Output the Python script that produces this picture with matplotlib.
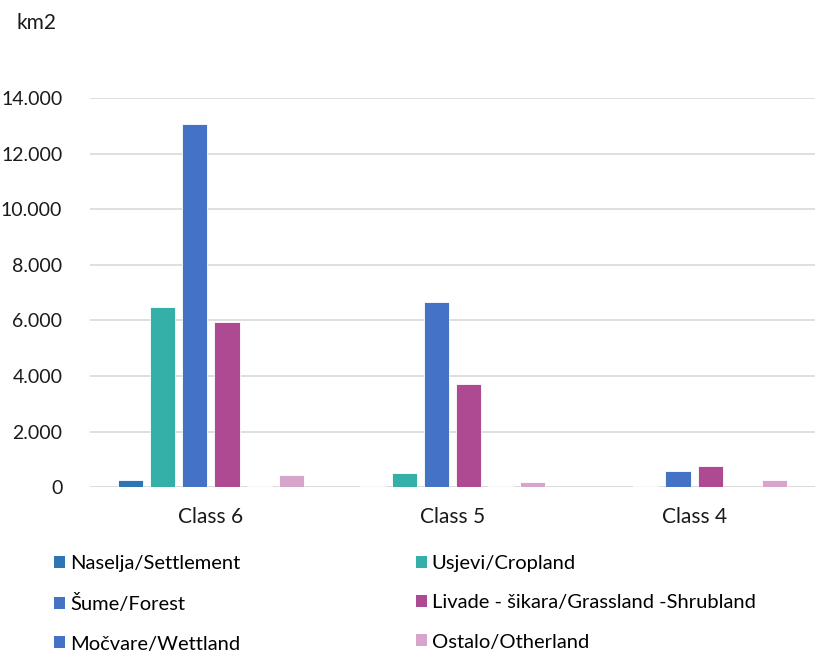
import matplotlib.pyplot as plt
import numpy as np
from matplotlib.patches import Patch
from matplotlib.ticker import FuncFormatter

plt.rcParams['font.family'] = ['Lato', 'DejaVu Sans']

classes = ['Class 6', 'Class 5', 'Class 4']
series = ['Naselja/Settlement', 'Usjevi/Cropland', 'Šume/Forest',
          'Livade - šikara/Grassland -Shrubland', 'Močvare/Wettland', 'Ostalo/Otherland']
settlement = [250, 40, 0]
cropland = [6480, 515, 40]
forest = [13060, 6680, 575]
grassland = [5960, 3720, 780]
wetland = [40, 40, 0]
otherland = [440, 180, 250]
values = [settlement, cropland, forest, grassland, wetland, otherland]
colors = ['#2E75B6', '#35B0A9', '#4472C4', '#AE4A92', '#4472C4', '#D7A5CB']
faint = ['#B8C6D8', '#BCDCD9', None, None, '#B8C6D8', None]

fig = plt.figure(figsize=(8.19, 6.54), dpi=100)
ax = fig.add_axes([0.110, 0.255, 0.885, 0.595])

x = np.arange(len(classes))
step = 0.133
width = 0.104
for i, (vals, c) in enumerate(zip(values, colors)):
    off = (i - 2.5) * step
    cols = [c if v > 100 else (faint[i] or c) for v in vals]
    ax.bar(x + off, vals, width, color=cols, edgecolor='white', linewidth=0.6, zorder=3)

ax.set_xlim(-0.5, 2.5)
ax.set_ylim(0, 14000)
ax.set_yticks(np.arange(0, 14001, 2000))
ax.yaxis.set_major_formatter(FuncFormatter(lambda v, p: f'{int(v):,}'.replace(',', '.')))
ax.set_xticks(x)
ax.set_xticklabels(classes)
ax.grid(axis='y', color='#D9D9D9', linewidth=1.2, zorder=0)
for s in ax.spines.values():
    s.set_visible(False)
ax.axhline(0, color='#D9D9D9', linewidth=1.2, zorder=2)
ax.tick_params(axis='both', length=0, colors='#1a1a1a')
ax.tick_params(axis='y', pad=20, labelsize=14)
ax.tick_params(axis='x', pad=14, labelsize=15)

fig.text(0.020, 0.965, 'km2', fontsize=15, color='#1a1a1a', va='center')

handles = [Patch(facecolor=c, edgecolor='none') for c in colors]
order = [0, 2, 4, 1, 3, 5]
fig.legend([handles[i] for i in order], [series[i] for i in order],
           ncol=2, loc='upper left', bbox_to_anchor=(0.066, 0.151),
           frameon=False, fontsize=14.5, handlelength=0.55, handleheight=0.55,
           handletextpad=0.25, columnspacing=8.7, labelspacing=1.1,
           borderaxespad=0, borderpad=0)

fig.savefig('out.png', dpi=100)
